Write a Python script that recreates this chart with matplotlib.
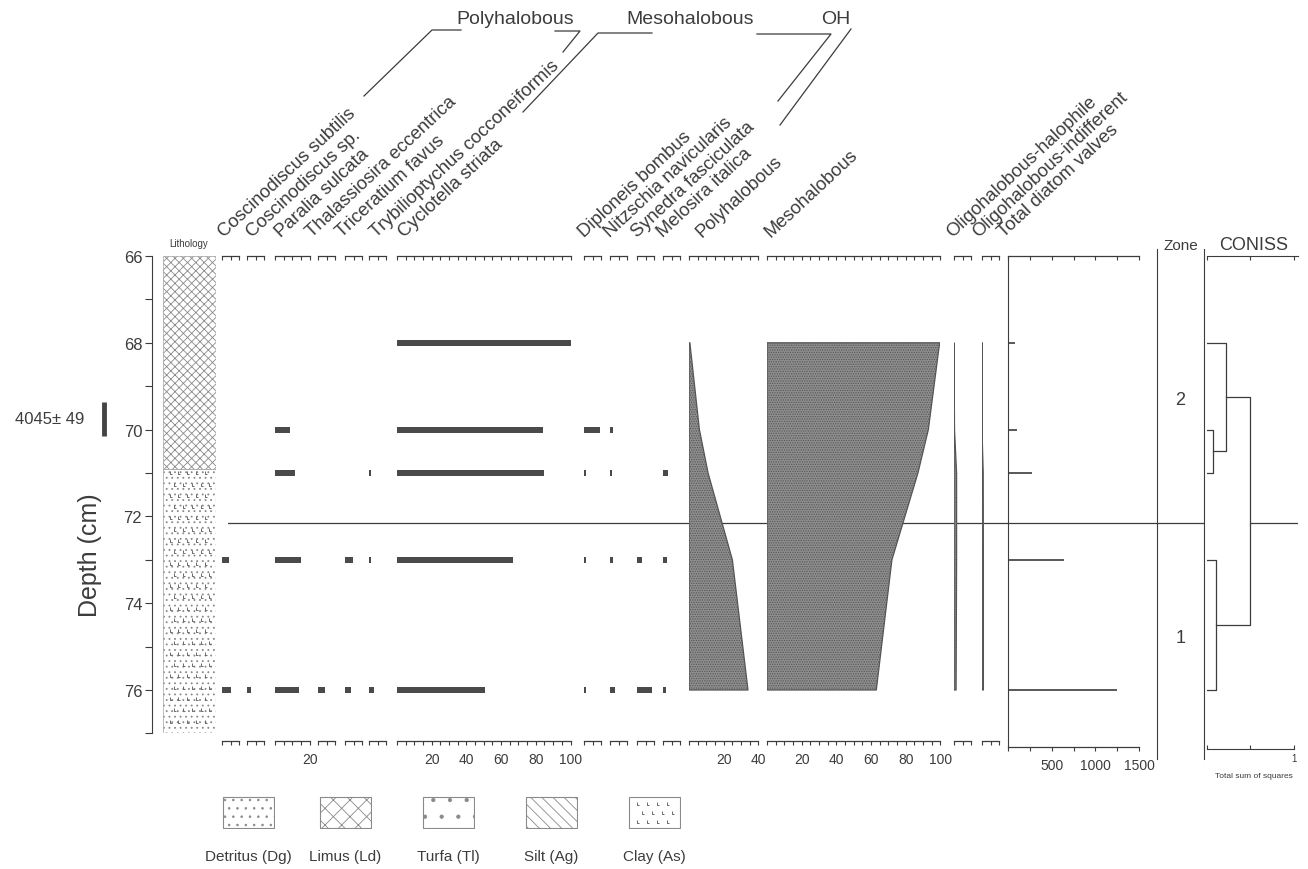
import numpy as np
import matplotlib
matplotlib.use('Agg')
import matplotlib.pyplot as plt
from matplotlib.ticker import MultipleLocator, FuncFormatter, NullFormatter
from matplotlib.lines import Line2D
from matplotlib.path import Path

plt.rcParams['font.family'] = ['Liberation Sans', 'DejaVu Sans']
plt.rcParams['hatch.linewidth'] = 0.6

INK = '#3c3c3c'

# sample depths (cm)
depths = [68, 70, 71, 73, 76]

# diatom taxa, percent
cosc_subtilis = [0, 0, 0, 4, 5]
cosc_sp = [0, 0, 0, 0, 2.5]
paralia = [0, 8.5, 11.5, 15, 14]
thalassiosira = [0, 0, 0, 0, 4]
triceratium = [0, 0, 0, 4.5, 3.5]
trybilioptychus = [0, 0, 1, 1, 3]
cyclotella = [100, 84, 84.5, 67, 51]
diploneis = [0, 9, 1, 1, 1]
nitzschia = [0, 1.5, 1.2, 2, 3]
synedra = [0, 0, 0, 3, 8.5]
melosira = [0, 0, 3, 2.5, 1.5]

taxa_names = ['Coscinodiscus subtilis', 'Coscinodiscus sp.', 'Paralia sulcata',
              'Thalassiosira eccentrica', 'Triceratium favus',
              'Trybilioptychus cocconeiformis', 'Cyclotella striata',
              'Diploneis bombus', 'Nitzschia navicularis', 'Synedra fasciculata',
              'Melosira italica']
taxa_values = [cosc_subtilis, cosc_sp, paralia, thalassiosira, triceratium,
               trybilioptychus, cyclotella, diploneis, nitzschia, synedra, melosira]
taxa_max = [10, 10, 20, 10, 10, 10, 100, 10, 10, 10, 10]

# ecological groups, percent
polyhalobous = [0.5, 6, 11, 25, 34]
mesohalobous = [99.5, 93, 87, 72, 63]
oligo_halophile = [0, 0.3, 1.5, 1.5, 1.2]
oligo_indifferent = [0, 0, 0.7, 0.8, 0.8]
group_names = ['Polyhalobous', 'Mesohalobous', 'Oligohalobous-halophile',
               'Oligohalobous-indifferent']
group_max = [40, 100, 10, 10]

total_valves = [80, 100, 280, 640, 1250]

lith_codes = ['Ld', 'As']
lith_top = [66, 70.9]
lith_bottom = [70.9, 77.0]

zone_boundary = 72.15
zone_names = ['2', '1']
zone_name_depth = [69.3, 74.8]

# CONISS merges: (cluster a, cluster b, total sum of squares)
coniss_merges = [(1, 2, 0.07), (0, 5, 0.22), (3, 4, 0.10), (6, 7, 0.49)]

date_text = '4045\u00b1 49'
date_top, date_bottom = 69.36, 70.15

legend_codes = ['Dg', 'Ld', 'Tl', 'Ag', 'As']
legend_names = ['Detritus (Dg)', 'Limus (Ld)', 'Turfa (Tl)', 'Silt (Ag)', 'Clay (As)']

# ---------------- layout (pixels) ----------------
W, H = 1308, 870
PX_CM = 43.4
Y66 = 257
PX_PCT = 1.735
D_BOT = 77.17

fig = plt.figure(figsize=(W / 100, H / 100), dpi=100)


def add_ax(x0, x1, d_top, d_bot):
    y0 = Y66 + (d_top - 66) * PX_CM
    y1 = Y66 + (d_bot - 66) * PX_CM
    ax = fig.add_axes([x0 / W, 1 - y1 / H, (x1 - x0) / W, (y1 - y0) / H])
    ax.set_ylim(d_bot, d_top)
    ax.patch.set_alpha(0)
    return ax


def ftext(x, y, s, **kw):
    kw.setdefault('color', INK)
    fig.text(x / W, 1 - y / H, s, **kw)


def fline(pts, lw=0.9):
    xs = np.array([p[0] for p in pts]) / W
    ys = 1 - np.array([p[1] for p in pts]) / H
    fig.add_artist(Line2D(xs, ys, color=INK, lw=lw))


def axis_panel(ax, step, label_every, xmax):
    ax.set_xlim(0, xmax)
    ax.set_yticks([])
    for s in ['left', 'right', 'top']:
        ax.spines[s].set_visible(False)
    ax.spines['bottom'].set_color(INK)
    ax.spines['bottom'].set_linewidth(0.9)
    ax.xaxis.set_major_locator(MultipleLocator(step))
    ax.xaxis.set_major_formatter(FuncFormatter(
        lambda v, p: f'{v:.0f}' if v > 0 and round(v) % label_every == 0 else ''))
    ax.tick_params(axis='x', direction='out', length=3, width=0.8, colors=INK,
                   labelsize=10, pad=5, labelcolor=INK)
    top = ax.secondary_xaxis('top')
    top.xaxis.set_major_locator(MultipleLocator(step))
    top.xaxis.set_major_formatter(NullFormatter())
    top.tick_params(direction='in', length=3, width=0.8, colors=INK)
    top.spines['top'].set_color(INK)
    top.spines['top'].set_linewidth(0.9)


def clay_marks(ax, x0, x1, y0, y1, nx, dy, size):
    L = Path([(0, 1), (0, 0), (0.55, 0)], [Path.MOVETO, Path.LINETO, Path.LINETO])
    xs_base = np.linspace(x0, x1, nx + 2)[1:-1]
    step = xs_base[1] - xs_base[0]
    for i, y in enumerate(np.arange(y0 + dy / 2, y1, dy)):
        shift = step / 2 * (i % 2) - step / 4
        ax.plot(xs_base + shift, [y] * nx, ls='none', marker=L, ms=size,
                mfc='none', mec='#6a6a6a', mew=0.7)


HATCH = {'Dg': '..', 'Ld': 'xx', 'Tl': '.', 'Ag': '\\\\\\', 'As': ''}

# background axes: zone boundary line
bg = add_ax(228, 1204, 66, D_BOT)
bg.set_xlim(0, 1)
bg.axis('off')
bg.axhline(zone_boundary, color=INK, lw=0.9)

# lithology column + depth axis
axl = add_ax(163, 216, 66, 77.0)
axl.set_xlim(0, 1)
for code, t, b in zip(lith_codes, lith_top, lith_bottom):
    h = 'xxxx' if code == 'Ld' else '...'
    axl.fill_betweenx([t, b], 0, 1, facecolor='white', edgecolor='#8a8a8a',
                      hatch=h, lw=0.4)
    if code == 'As':
        clay_marks(axl, 0, 1, t, b, 5, 0.26, 5)
for s in ['top', 'right', 'bottom']:
    axl.spines[s].set_visible(False)
axl.spines['left'].set_position(('outward', 8))
axl.spines['left'].set_color(INK)
axl.set_xticks([])
axl.yaxis.set_major_locator(MultipleLocator(2))
axl.yaxis.set_minor_locator(MultipleLocator(1))
axl.tick_params(axis='y', which='both', direction='out', length=5, width=0.8,
                colors=INK, labelsize=12, pad=2)
ftext(189, 244, 'Lithology', fontsize=7, ha='center', va='center')
ftext(90, 555, 'Depth (cm)', fontsize=18, rotation=90, ha='center', va='center')

# radiocarbon date
axd = add_ax(98, 110, 66, 77.0)
axd.set_xlim(0, 1)
axd.axis('off')
axd.vlines(0.5, date_top, date_bottom, color='#444444', lw=3.5)
axd.text(-1.1, (date_top + date_bottom) / 2, date_text, transform=axd.get_yaxis_transform(),
         ha='right', va='center', fontsize=12, color=INK)

# taxa panels
taxa_left = [222, 247, 275, 318, 345, 369, 397, 584, 610, 637, 663]
for vals, xmax, x0 in zip(taxa_values, taxa_max, taxa_left):
    ax = add_ax(x0, x0 + xmax * PX_PCT, 66, D_BOT)
    axis_panel(ax, 5, 20, xmax)
    ax.barh(depths, vals, height=0.14, color='#4a4a4a')

# ecological group silhouettes
group_left = [689, 767, 954, 982]
for vals, xmax, x0 in zip([polyhalobous, mesohalobous, oligo_halophile, oligo_indifferent],
                          group_max, group_left):
    ax = add_ax(x0, x0 + xmax * PX_PCT, 66, D_BOT)
    axis_panel(ax, 5, 20, xmax)
    ax.fill_betweenx(depths, 0, vals, facecolor='#8e8e8e', edgecolor='#555555',
                     hatch='.......', lw=0.9, zorder=3)

# total diatom valves
axt = add_ax(1008, 1139, 66, 77.31)
axis_panel(axt, 250, 500, 1500)
axt.spines['left'].set_visible(True)
axt.spines['left'].set_color(INK)
axt.hlines(depths, 0, total_valves, color=INK, lw=1.2)

# zone column
axz = add_ax(1157, 1204, 65.84, 77.6)
axz.set_xlim(0, 1)
axz.set_xticks([])
axz.set_yticks([])
for s in ['top', 'bottom']:
    axz.spines[s].set_visible(False)
for s in ['left', 'right']:
    axz.spines[s].set_color(INK)
for name, d in zip(zone_names, zone_name_depth):
    axz.text(0.5, d, name, ha='center', va='center', fontsize=13, color=INK)
ftext(1181, 246, 'Zone', fontsize=11, ha='center', va='center')

# CONISS dendrogram
axc = add_ax(1207, 1298, 66, 77.35)
axc.set_xlim(0, 1.046)
axc.set_yticks([])
for s in ['left', 'right']:
    axc.spines[s].set_visible(False)
axc.spines['top'].set_color(INK)
axc.spines['bottom'].set_color(INK)
axc.spines['bottom'].set_bounds(0, 1)
axc.set_xticks([0, 0.5, 1])
axc.set_xticklabels(['', '', '1'])
axc.tick_params(axis='x', direction='in', length=3, width=0.8, colors=INK, labelsize=7,
                pad=3, top=True)
nodes = {i: (0.0, d) for i, d in enumerate(depths)}
for k, (a, b, h) in enumerate(coniss_merges):
    xa, ya = nodes[a]
    xb, yb = nodes[b]
    axc.plot([xa, h, h, xb], [ya, ya, yb, yb], color=INK, lw=0.9)
    nodes[len(depths) + k] = (h, (ya + yb) / 2)
axc.plot([coniss_merges[-1][2], 1.046], [zone_boundary, zone_boundary], color=INK, lw=0.9)
ftext(1254, 246, 'CONISS', fontsize=13, ha='center', va='center')
ftext(1254, 776, 'Total sum of squares', fontsize=6, ha='center', va='center')

# rotated column headers
all_names = taxa_names + group_names + ['Total diatom valves']
label_x = [224, 252, 281, 312, 342, 376, 404, 584, 610, 637, 663, 702, 770, 952, 978, 1004]
for name, x in zip(all_names, label_x):
    ftext(x, 238, name, fontsize=13.3, rotation=43, rotation_mode='anchor',
          ha='left', va='baseline')

# ecological group brackets
ftext(515, 19, 'Polyhalobous', fontsize=14, ha='center', va='center')
ftext(690, 19, 'Mesohalobous', fontsize=14, ha='center', va='center')
ftext(836, 19, 'OH', fontsize=14, ha='center', va='center')
fline([(364, 97), (432, 31), (461, 31)])
fline([(555, 32), (580, 32), (563, 53)])
fline([(523, 113), (598, 34), (652, 34)])
fline([(757, 35), (831, 35), (778, 102)])
fline([(851, 30), (780, 126)])

# lithology legend
legend_x = [222, 319, 422, 525, 628]
for code, name, x in zip(legend_codes, legend_names, legend_x):
    axg = fig.add_axes([x / W, 1 - 830 / H, 53 / W, 33 / H])
    axg.set_xlim(-0.02, 1.02)
    axg.set_ylim(-0.04, 1.04)
    axg.fill_between([0, 1], 0, 1, facecolor='white', edgecolor='#8a8a8a',
                     hatch=HATCH[code], lw=0.8)
    if code == 'As':
        clay_marks(axg, 0, 1, 0, 1, 4, 0.3, 5)
    axg.axis('off')
    ftext(x + 26, 857, name, fontsize=11, ha='center', va='center')

fig.savefig('out.png', dpi=100)
